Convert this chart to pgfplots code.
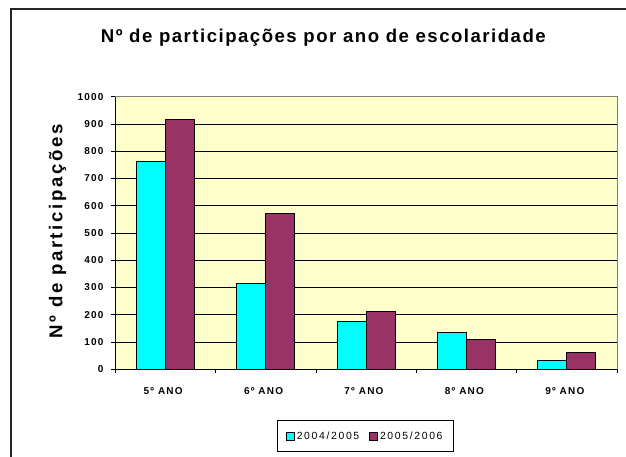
\documentclass[border=0pt]{standalone}
\usepackage{fontspec}
\setmainfont{Liberation Sans}
\newfontfamily\spfont[LetterSpace=12]{Liberation Sans}
\newfontfamily\legfont[LetterSpace=16]{Liberation Sans}
\newfontfamily\titlefont[LetterSpace=8]{Liberation Sans}
\newfontfamily\ylabfont[LetterSpace=14]{Liberation Sans}
\usepackage{pgfplots}
\pgfplotsset{compat=1.18}
\definecolor{cyanb}{HTML}{00FFFF}
\definecolor{maroonb}{HTML}{993366}
\definecolor{bgy}{HTML}{FFFFCC}
\begin{document}
\begin{tikzpicture}
\useasboundingbox (0pt,0pt) rectangle (626pt,457pt);
\draw[line width=1.5pt,black!85] (11pt,-5pt) -- (11pt,448pt) -- (640pt,448pt);
\node[font=\titlefont\bfseries\fontsize{18.6}{21}\selectfont] at (323.3pt,419.5pt) {Nº de participações por ano de escolaridade};
\node[font=\ylabfont\bfseries\fontsize{18.6}{21}\selectfont,rotate=90] at (57.5pt,225.5pt) {Nº de participações};
\begin{axis}[
  at={(115pt,87.7pt)}, anchor=south west,
  scale only axis, width=502pt, height=272.6pt,
  xmin=-0.5, xmax=4.5, ymin=0, ymax=1000,
  ybar=0pt, bar width=29pt,
  axis background/.style={fill=bgy},
  axis x line*=bottom, axis y line*=left,
  axis line style={black, line width=0.8pt},
  xtick={0,1,2,3,4},
  xticklabels={5º ANO,6º ANO,7º ANO,8º ANO,9º ANO},
  major x tick style={draw=none},
  minor xtick={-0.5,0.5,1.5,2.5,3.5,4.5},
  minor tick length=4pt,
  x tick style={black, line width=0.6pt},
  ytick={0,100,...,1000},
  y tick style={black, line width=0.6pt},
  tick align=outside, major tick length=4pt,
  ymajorgrids, grid style={black, line width=0.6pt},
  /pgf/number format/assume math mode=true,
  /pgf/number format/set thousands separator={},
  ticklabel style={font=\spfont\bfseries\fontsize{10}{12}\selectfont},
  xticklabel style={yshift=-11pt, xshift=-2pt},
  yticklabel style={xshift=-4pt},
  legend style={at={(0.4985,-0.2455)}, anchor=center, draw=black, line width=0.6pt,
    font=\legfont\fontsize{10.4}{12}\selectfont, legend columns=2,
    /tikz/every even column/.append style={column sep=8pt},
    inner xsep=9pt, inner ysep=9pt},
  legend image code/.code={\draw[#1, line width=0.8pt] (0pt,-4pt) rectangle (8pt,4pt);},
  clip=false,
]
\addplot[fill=cyanb, draw=black, line width=1pt] coordinates {(0,764) (1,316) (2,177) (3,136) (4,31)};
\addplot[fill=maroonb, draw=black, line width=1pt] coordinates {(0,916) (1,572) (2,212) (3,109) (4,60)};
\legend{2004/2005,2005/2006}
\draw[gray, line width=0.8pt] (axis description cs:0,1) -- (axis description cs:1,1) -- (axis description cs:1,0);
\end{axis}
\end{tikzpicture}
\end{document}
